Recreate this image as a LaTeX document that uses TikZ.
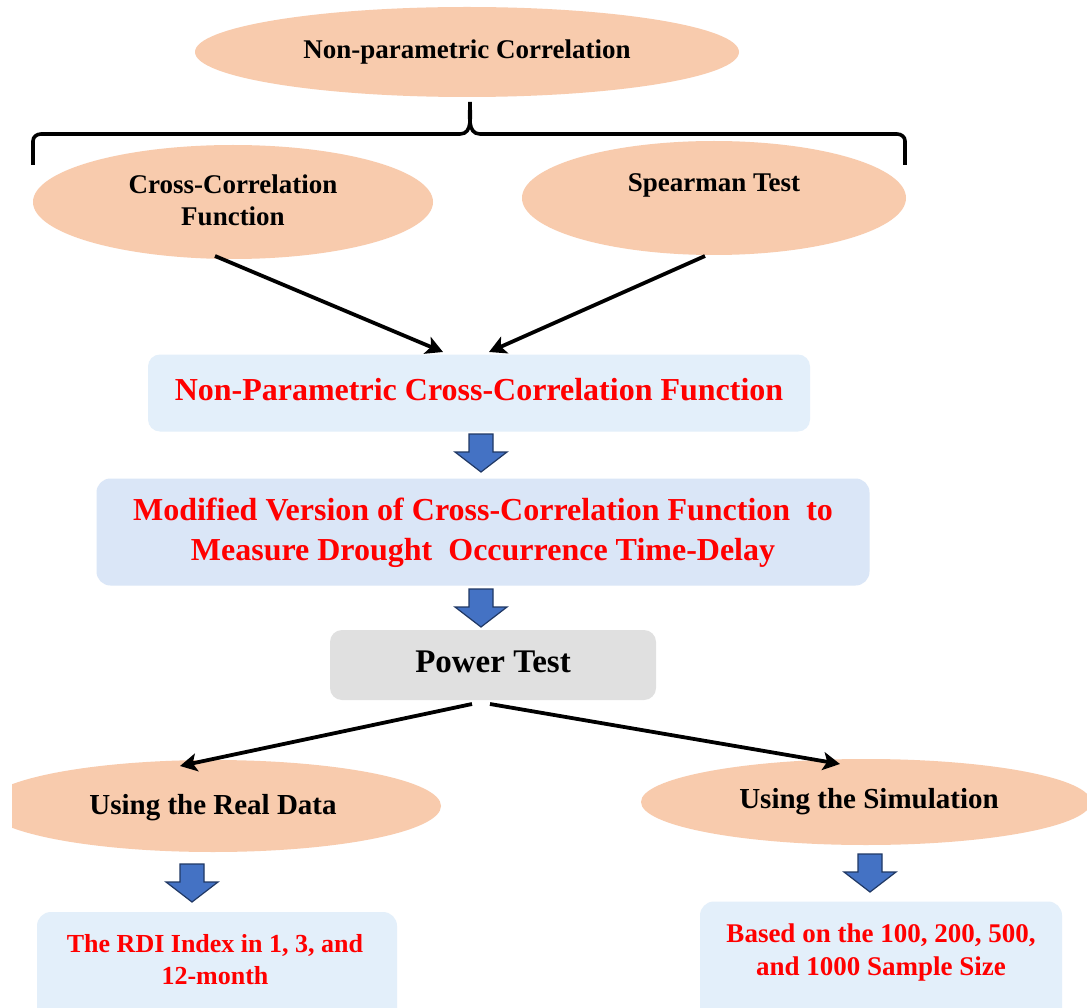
\documentclass[tikz,border=0pt]{standalone}
\usepackage{fontspec}
\setmainfont{Liberation Serif}
\usetikzlibrary{arrows.meta,shapes.geometric}
\definecolor{peach}{HTML}{F8CBAD}
\definecolor{lblue}{HTML}{E3EFFA}
\definecolor{mblue}{HTML}{DAE6F7}
\definecolor{pgray}{HTML}{E0E0E0}
\definecolor{ared}{HTML}{FF0000}
\definecolor{barrow}{HTML}{4472C4}
\definecolor{barrowd}{HTML}{203864}
\tikzset{
  btxt/.style 2 args={font=\bfseries\fontsize{#1}{#2}\selectfont, text=black, align=center},
  rtxt/.style 2 args={font=\bfseries\fontsize{#1}{#2}\selectfont, text=ared, align=center},
  conn/.style={line width=3.8pt, -{Stealth[length=17pt,width=18pt,inset=4pt]}},
  pics/downarrow/.style={code={
    \fill[barrow, draw=barrowd, line width=1.2pt] (-12,0) -- (12,0) -- (12,18) -- (26,18) -- (0,38) -- (-26,18) -- (-12,18) -- cycle;
  }}
}
\begin{document}
\begin{tikzpicture}[x=1pt,y=-1pt]
\useasboundingbox (0,0) rectangle (1087,1008);
\clip (0,0) rectangle (1087,1008);
\fill[white] (0,0) rectangle (1087,1008);
% top ellipse
\fill[peach] (467,52) ellipse [x radius=272, y radius=45];
\node[btxt={27}{32}] (top) at (467,52) {Non-parametric Correlation};
% brace
\coordinate (bl) at (33,165);
\coordinate (br) at (905,165);
\coordinate (bt) at (470,102);
\draw[line width=3.6pt] (bl) -- (33,141) to[out=90,in=180] (41,134) -- (460,134) to[out=0,in=-90] (bt)
  (bt) to[out=-90,in=180] (480,134) -- (897,134) to[out=0,in=90] (905,141) -- (br);
% second row ellipses
\fill[peach] (233,202) ellipse [x radius=200, y radius=57];
\node[btxt={27}{32}] (ccf) at (233,200) {Cross-Correlation\\Function};
\fill[peach] (714,198) ellipse [x radius=192, y radius=57];
\node[btxt={27}{32}] (spear) at (714,185) {Spearman Test};
% box 1
\node[fill=lblue, rounded corners=12pt, minimum width=662pt, minimum height=77pt] (b1) at (479,393) {};
\node[rtxt={32}{40}] (b1t) at (479,390) {Non-Parametric Cross-Correlation Function};
\coordinate (c1s) at (215,256);
\coordinate (c1e) at (443,352);
\coordinate (c2s) at (705,256);
\coordinate (c2e) at (489,352);
\draw[conn] (c1s) -- (c1e);
\draw[conn] (c2s) -- (c2e);
\pic at (481,434) {downarrow};
% box 2
\node[fill=mblue, rounded corners=14pt, minimum width=773pt, minimum height=107pt] (b2) at (483,532) {};
\node[rtxt={32}{40}] (b2t) at (483,533) {Modified Version of Cross-Correlation Function \ to\\Measure Drought \ Occurrence Time-Delay};
\pic at (481,589) {downarrow};
% power test
\node[fill=pgray, rounded corners=12pt, minimum width=326pt, minimum height=70pt] (pt) at (493,665) {};
\node[btxt={33}{36}] (ptt) at (493,662) {Power Test};
% bottom ellipses
\begin{scope}
\clip (12,700) rectangle (1087,1008);
\fill[peach] (213,806) ellipse [x radius=228, y radius=46];
\end{scope}
\node[btxt={29}{32}] (real) at (213,808) {Using the Real Data};
\fill[peach] (866,802) ellipse [x radius=225, y radius=43];
\node[btxt={29}{32}] (sim) at (869,802) {Using the Simulation};
\coordinate (p1s) at (472,704);
\coordinate (p1e) at (180,766);
\coordinate (p2s) at (490,704);
\coordinate (p2e) at (840,764);
\draw[conn] (p1s) -- (p1e);
\draw[conn] (p2s) -- (p2e);
\pic at (192,864) {downarrow};
\pic at (870,854) {downarrow};
% bottom boxes
\node[fill=lblue, rounded corners=14pt, minimum width=360pt, minimum height=120pt] (bl1) at (217,972) {};
\node[rtxt={26}{32}] (bl1t) at (215,960) {The RDI Index in 1, 3, and\\12-month};
\node[fill=lblue, rounded corners=14pt, minimum width=362pt, minimum height=125pt] (br1) at (881,964) {};
\node[rtxt={27}{33}] (br1t) at (881,952) {Based on the 100, 200, 500,\\and 1000 Sample Size};
\end{tikzpicture}
\end{document}
